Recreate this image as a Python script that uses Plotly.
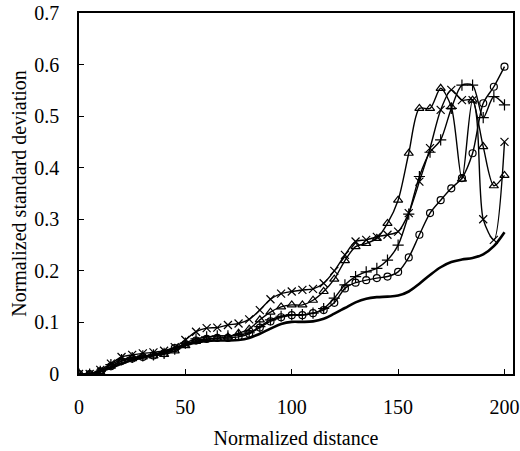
import plotly.graph_objects as go

distance = list(range(0, 205, 5))

smooth_ref = [0, 0, 0.005, 0.012, 0.02, 0.027, 0.032, 0.037, 0.043, 0.05, 0.056, 0.061, 0.064, 0.065, 0.065, 0.066,
              0.07, 0.078, 0.088, 0.097, 0.101, 0.101, 0.102, 0.107, 0.117, 0.128, 0.139, 0.146, 0.149, 0.15, 0.152,
              0.16, 0.175, 0.192, 0.207, 0.217, 0.222, 0.225, 0.232, 0.248, 0.275]

circle_s = [0, 0, 0.005, 0.015, 0.025, 0.03, 0.033, 0.036, 0.04, 0.05, 0.058, 0.065, 0.068, 0.07, 0.07, 0.072,
            0.078, 0.09, 0.102, 0.11, 0.114, 0.114, 0.118, 0.124, 0.138, 0.166, 0.177, 0.182, 0.186, 0.189, 0.198,
            0.226, 0.27, 0.312, 0.337, 0.36, 0.38, 0.428, 0.525, 0.557, 0.596]

plus_s = [0, 0, 0.005, 0.018, 0.028, 0.032, 0.035, 0.037, 0.04, 0.048, 0.06, 0.068, 0.072, 0.074, 0.074, 0.076,
          0.08, 0.092, 0.105, 0.112, 0.115, 0.115, 0.118, 0.127, 0.147, 0.173, 0.189, 0.198, 0.205, 0.221, 0.25,
          0.31, 0.383, 0.43, 0.454, 0.515, 0.56, 0.56, 0.497, 0.538, 0.522]

triangle_s = [0, 0, 0.005, 0.015, 0.025, 0.03, 0.033, 0.035, 0.038, 0.045, 0.055, 0.063, 0.067, 0.069, 0.072, 0.079,
              0.087, 0.105, 0.12, 0.13, 0.134, 0.134, 0.143, 0.16, 0.184, 0.22, 0.247, 0.253, 0.263, 0.292, 0.337,
              0.428, 0.515, 0.515, 0.554, 0.518, 0.378, 0.531, 0.441, 0.365, 0.385]

x_s = [0, 0, 0.008, 0.02, 0.033, 0.037, 0.04, 0.042, 0.045, 0.052, 0.066, 0.082, 0.089, 0.09, 0.095, 0.098,
       0.106, 0.124, 0.145, 0.156, 0.16, 0.163, 0.165, 0.176, 0.2, 0.231, 0.257, 0.26, 0.266, 0.27, 0.276,
       0.312, 0.373, 0.438, 0.512, 0.551, 0.531, 0.531, 0.30, 0.26, 0.45]

y_ticks = [0, 0.1, 0.2, 0.3, 0.4, 0.5, 0.6, 0.7]
y_tick_labels = ["0", "0.1", "0.2", "0.3", "0.4", "0.5", "0.6", "0.7"]
x_ticks = [0, 50, 100, 150, 200]

fig = go.Figure()

def add_series(y, symbol, size):
    fig.add_trace(go.Scatter(
        x=distance, y=y, mode="lines+markers",
        line=dict(color="black", width=1.4, shape="spline", smoothing=0.8),
        marker=dict(symbol=symbol, size=size, color="black",
                    line=dict(color="black", width=1.2)),
        showlegend=False))

add_series(circle_s, "circle-open", 7)
add_series(plus_s, "cross-thin-open", 8)
add_series(triangle_s, "triangle-up-open", 8)
add_series(x_s, "x-thin-open", 8)

fig.add_trace(go.Scatter(
    x=distance, y=smooth_ref, mode="lines",
    line=dict(color="black", width=2.6, shape="spline", smoothing=1.0),
    showlegend=False))

font = "Liberation Serif, Times New Roman, serif"
fig.update_layout(
    width=520, height=451,
    margin=dict(l=79, r=7, t=13, b=77),
    paper_bgcolor="white", plot_bgcolor="white",
    font=dict(family=font, size=20, color="black"),
    xaxis=dict(range=[0, 204], tickvals=x_ticks, ticks="inside", ticklen=5,
               tickcolor="black", showline=True, linecolor="black", linewidth=1.5,
               mirror=True, showgrid=False, zeroline=False, automargin=False,
               ticklabelstandoff=14,
               title=dict(text="Normalized distance", font=dict(size=20), standoff=14)),
    yaxis=dict(range=[0, 0.7], tickvals=y_ticks, ticktext=y_tick_labels, ticks="inside",
               ticklen=5, tickcolor="black", showline=True, linecolor="black", linewidth=1.5,
               mirror=True, showgrid=False, zeroline=False, automargin=False,
               ticklabelstandoff=14,
               title=dict(text="Normalized standard deviation", font=dict(size=20), standoff=2)),
)

fig.write_html("out.html", config={"displayModeBar": False},
               post_script="document.body.style.margin='0';document.body.style.padding='0';")
